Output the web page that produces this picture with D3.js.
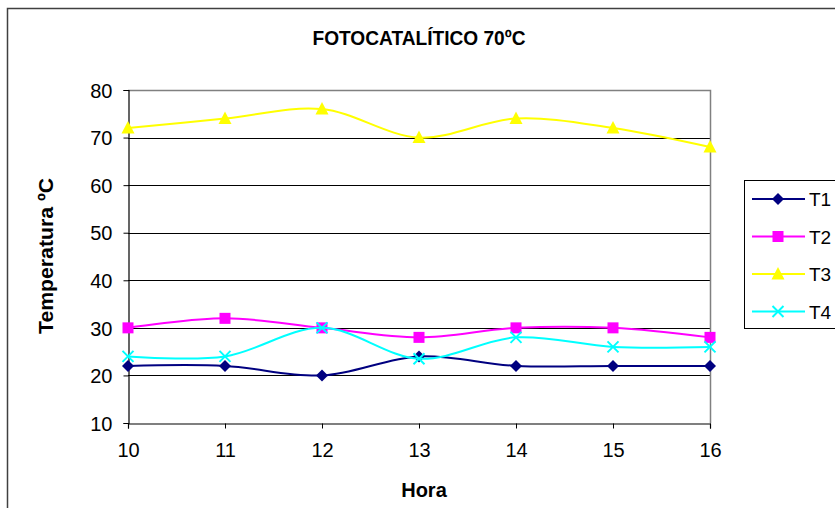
<!DOCTYPE html>
<html><head><meta charset="utf-8">
<script src="https://cdn.jsdelivr.net/npm/d3@7"></script>
<style>body{margin:0;background:#fff}svg{display:block}text{font-family:"Liberation Sans",Arial,sans-serif}</style>
</head><body><svg id="c" width="835" height="508"></svg>
<script>
const hours = [10, 11, 12, 13, 14, 15, 16];
const T1 = [22, 22, 20, 24, 22, 22, 22];
const T2 = [30, 32, 30, 28, 30, 30, 28];
const T3 = [72, 74, 76, 70, 74, 72, 68];
const T4 = [24, 24, 30, 23.5, 28, 26, 26];
const yTicks = [10, 20, 30, 40, 50, 60, 70, 80];
const seriesNames = ["T1", "T2", "T3", "T4"];
const seriesColors = ["#000080", "#FF00FF", "#FFFF00", "#00FFFF"];
const seriesMarkers = ["diamond", "square", "triangle", "x"];
const seriesValues = [T1, T2, T3, T4];

const svg = d3.select("#c");
svg.append("rect").attr("x", 7.5).attr("y", 8.5).attr("width", 840).attr("height", 510)
  .attr("fill", "#fff").attr("stroke", "#404040").attr("stroke-width", 1.5);

const L = 128, R = 710, T = 90, B = 423;
const x = d3.scaleLinear().domain([10, 16]).range([L, R]);
const y = d3.scaleLinear().domain([10, 80]).range([B, T]);

// gridlines
svg.append("g").selectAll("line").data(yTicks.filter(v => v > 10 && v < 80)).join("line")
  .attr("x1", L).attr("x2", R).attr("y1", d => Math.round(y(d)) + 0.5).attr("y2", d => Math.round(y(d)) + 0.5)
  .attr("stroke", "#000").attr("stroke-width", 1);
// plot border top/right
svg.append("path").attr("d", `M${L},${T + 0.5}H${R + 0.5}V${B}`).attr("fill", "none").attr("stroke", "#808080").attr("stroke-width", 1.5);

const yAxis = svg.append("g").attr("transform", `translate(${L + 0.5},0)`)
  .call(d3.axisLeft(y).tickValues(yTicks).tickSize(5).tickPadding(11).tickFormat(d3.format("d")));
const xAxis = svg.append("g").attr("transform", `translate(0,${B + 0.5})`)
  .call(d3.axisBottom(x).tickValues(hours).tickSize(5).tickPadding(14).tickFormat(d3.format("d")));
[yAxis, xAxis].forEach(a => {
  a.select(".domain").attr("stroke", "#000").attr("stroke-width", 1.2);
  a.selectAll(".tick line").attr("stroke", "#000");
  a.selectAll("text").attr("font-size", 20).attr("fill", "#000").attr("font-family", '"Liberation Sans",Arial,sans-serif');
});
yAxis.selectAll("text").attr("dy", "0.36em");

const line = d3.line().x((d, i) => x(hours[i])).y(d => y(d)).curve(d3.curveCatmullRom.alpha(0));

function marker(g, type, color, cx, cy) {
  if (type === "diamond") {
    g.append("path").attr("d", `M${cx},${cy - 6}L${cx + 6},${cy}L${cx},${cy + 6}L${cx - 6},${cy}Z`).attr("fill", color);
  } else if (type === "square") {
    g.append("rect").attr("x", cx - 5.5).attr("y", cy - 5.5).attr("width", 11).attr("height", 11).attr("fill", color);
  } else if (type === "triangle") {
    g.append("path").attr("d", `M${cx},${cy - 7}L${cx + 6.5},${cy + 5.5}L${cx - 6.5},${cy + 5.5}Z`).attr("fill", color);
  } else {
    g.append("path").attr("d", `M${cx - 5.5},${cy - 5.5}L${cx + 5.5},${cy + 5.5}M${cx - 5.5},${cy + 5.5}L${cx + 5.5},${cy - 5.5}`)
      .attr("stroke", color).attr("stroke-width", 2).attr("fill", "none");
  }
}

seriesValues.forEach((vals, k) => {
  const g = svg.append("g");
  g.append("path").attr("d", line(vals)).attr("fill", "none").attr("stroke", seriesColors[k]).attr("stroke-width", 2);
  vals.forEach((v, i) => marker(g, seriesMarkers[k], seriesColors[k], x(hours[i]), y(v)));
});

// titles
svg.append("text").attr("x", 419).attr("y", 45).attr("text-anchor", "middle").attr("font-size", 20).attr("font-weight", "bold")
  .attr("textLength", 213).attr("lengthAdjust", "spacingAndGlyphs").text("FOTOCATALÍTICO 70ºC");
svg.append("text").attr("x", 424).attr("y", 497).attr("text-anchor", "middle").attr("font-size", 20).attr("font-weight", "bold").text("Hora");
svg.append("text").attr("transform", "translate(53,256) rotate(-90)").attr("text-anchor", "middle").attr("font-size", 20).attr("font-weight", "bold")
  .attr("textLength", 156).attr("lengthAdjust", "spacingAndGlyphs").text("Temperatura ºC");

// legend
const lg = svg.append("g");
lg.append("rect").attr("x", 744.5).attr("y", 180.5).attr("width", 100).attr("height", 148).attr("fill", "#fff").attr("stroke", "#000").attr("stroke-width", 1);
seriesNames.forEach((n, k) => {
  const ly = 199 + k * 37.5;
  lg.append("line").attr("x1", 752).attr("x2", 805).attr("y1", ly).attr("y2", ly).attr("stroke", seriesColors[k]).attr("stroke-width", 2);
  marker(lg, seriesMarkers[k], seriesColors[k], 778, ly);
  lg.append("text").attr("x", 809).attr("y", ly + 7).attr("font-size", 19).text(n);
});
</script></body></html>
